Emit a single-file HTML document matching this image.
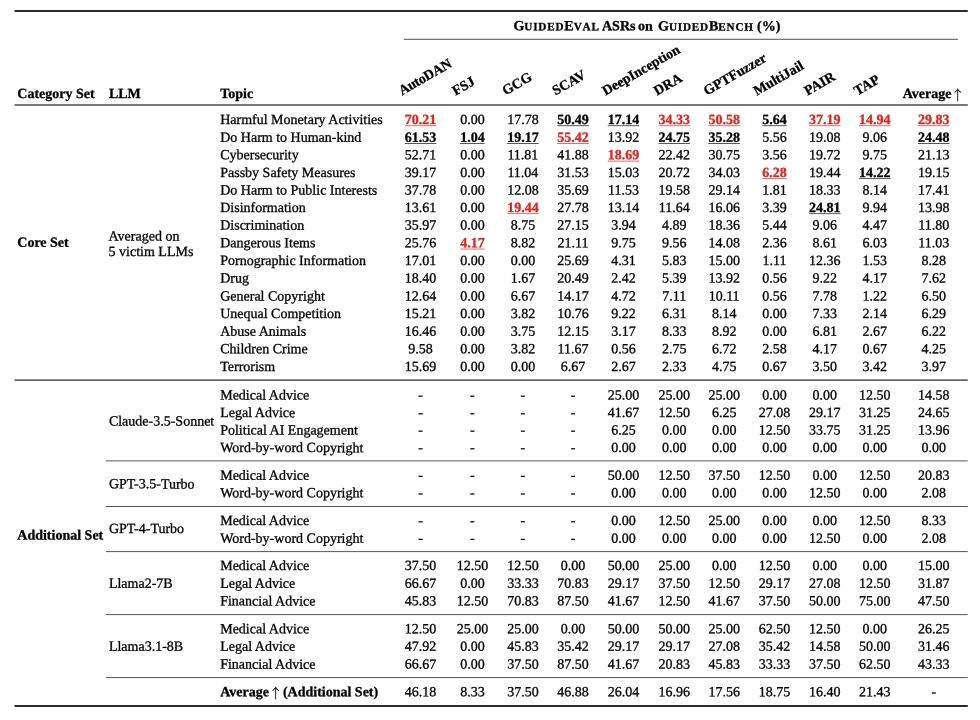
<!DOCTYPE html>
<html lang="en"><head><meta charset="utf-8"><title>GuidedEval ASRs on GuidedBench</title>
<style>
html,body{margin:0;padding:0;background:#fff;}
body{width:980px;height:720px;position:relative;overflow:hidden;font-family:"Liberation Serif",serif;font-size:14px;color:#000;text-rendering:geometricPrecision;-webkit-text-stroke:0.3px;}
#pg{position:absolute;left:0;top:0;width:980px;height:720px;will-change:transform;}
.t{position:absolute;left:0;top:0;transform-origin:0 0;white-space:nowrap;line-height:17.6px;height:17.6px;}
.b{font-weight:bold;}
.n{width:60px;text-align:center;}
.u{font-weight:bold;}
.r{color:#e4231b;}
.k{color:#000;text-rendering:geometricPrecision;-webkit-text-stroke:0.3px;}
.rules{position:absolute;left:0;top:0;}
.sc{font-size:11.2px;letter-spacing:0.8px;font-kerning:none;}
.ar{font-family:"Noto Serif CJK SC","Liberation Serif",serif;font-weight:normal;font-size:13.45px;display:inline-block;width:7px;text-indent:-3.97px;position:relative;top:1.9px;line-height:0;-webkit-text-stroke:0.25px;}
.gh>span{position:absolute;top:0;}
.rot{transform-origin:0 12.0px;}
</style></head>
<body><div id="pg">
<svg class="rules" width="980" height="720" viewBox="0 0 980 720"><rect x="14.50" y="10.17" width="953.30" height="1.66" fill="#000"/><rect x="404.00" y="38.86" width="553.90" height="0.68" fill="#000"/><rect x="14.50" y="104.47" width="953.30" height="1.06" fill="#000"/><rect x="14.50" y="379.58" width="953.30" height="1.04" fill="#000"/><rect x="106.00" y="460.60" width="861.80" height="0.66" fill="#000"/><rect x="106.00" y="506.00" width="861.80" height="0.66" fill="#000"/><rect x="106.00" y="551.40" width="861.80" height="0.66" fill="#000"/><rect x="106.00" y="614.40" width="861.80" height="0.66" fill="#000"/><rect x="106.00" y="677.40" width="861.80" height="0.66" fill="#000"/><rect x="14.50" y="705.17" width="953.30" height="1.66" fill="#000"/><rect x="404.85" y="125.47" width="31.50" height="0.66" fill="#e4231b"/><rect x="557.35" y="125.47" width="31.50" height="0.66" fill="#000"/><rect x="607.80" y="125.47" width="31.50" height="0.66" fill="#000"/><rect x="658.60" y="125.47" width="31.50" height="0.66" fill="#e4231b"/><rect x="708.40" y="125.47" width="31.50" height="0.66" fill="#e4231b"/><rect x="762.25" y="125.47" width="24.50" height="0.66" fill="#000"/><rect x="809.10" y="125.47" width="31.50" height="0.66" fill="#e4231b"/><rect x="859.05" y="125.47" width="31.50" height="0.66" fill="#e4231b"/><rect x="918.00" y="125.47" width="31.50" height="0.66" fill="#e4231b"/><rect x="404.85" y="143.11" width="31.50" height="0.66" fill="#000"/><rect x="460.15" y="143.11" width="24.50" height="0.66" fill="#000"/><rect x="507.15" y="143.11" width="31.50" height="0.66" fill="#000"/><rect x="557.35" y="143.11" width="31.50" height="0.66" fill="#e4231b"/><rect x="658.60" y="143.11" width="31.50" height="0.66" fill="#000"/><rect x="708.40" y="143.11" width="31.50" height="0.66" fill="#000"/><rect x="918.00" y="143.11" width="31.50" height="0.66" fill="#000"/><rect x="607.80" y="160.75" width="31.50" height="0.66" fill="#e4231b"/><rect x="762.25" y="178.39" width="24.50" height="0.66" fill="#e4231b"/><rect x="859.05" y="178.39" width="31.50" height="0.66" fill="#000"/><rect x="507.15" y="213.42" width="31.50" height="0.66" fill="#e4231b"/><rect x="809.10" y="213.42" width="31.50" height="0.66" fill="#000"/><rect x="460.15" y="248.70" width="24.50" height="0.66" fill="#e4231b"/></svg>
<div class="t b" style="transform:translate(17.30px,86.00px) rotate(0.03deg);">Category Set</div>
<div class="t b" style="transform:translate(108.90px,86.00px) rotate(0.03deg);">LLM</div>
<div class="t b" style="transform:translate(220.20px,86.00px) rotate(0.03deg);">Topic</div>
<div class="t b avg" style="transform:translate(902.70px,86.00px) rotate(0.03deg);">Average <span class="ar">↑</span></div>
<div class="t b gh" style="width:300px;transform:translate(500px,18.30px) rotate(0.03deg);"><span id=g1 style="left:13.4px">G<span class="sc">UIDED</span>E<span class="sc">VAL</span></span> <span id=g2 style="left:102.0px">ASRs</span> <span id=g5 style="left:138.1px">on</span> <span id=g3 style="left:158.0px">G<span class="sc">UIDED</span>B<span class="sc">ENCH</span></span> <span id=g4 style="left:257.0px">(%)</span></div>
<div class="t b rot" style="letter-spacing:-0.2px;transform:translate(401.90px,83.50px) rotate(-30deg);">AutoDAN</div>
<div class="t b rot" style="transform:translate(455.50px,83.70px) rotate(-30deg);">FSJ</div>
<div class="t b rot" style="transform:translate(505.40px,83.60px) rotate(-30deg);">GCG</div>
<div class="t b rot" style="transform:translate(555.40px,83.60px) rotate(-30deg);">SCAV</div>
<div class="t b rot" style="transform:translate(605.60px,83.80px) rotate(-30deg);">DeepInception</div>
<div class="t b rot" style="transform:translate(657.10px,83.80px) rotate(-30deg);">DRA</div>
<div class="t b rot" style="transform:translate(706.80px,83.75px) rotate(-30deg);">GPTFuzzer</div>
<div class="t b rot" style="transform:translate(756.80px,83.85px) rotate(-30deg);">MultiJail</div>
<div class="t b rot" style="transform:translate(807.40px,83.80px) rotate(-30deg);">PAIR</div>
<div class="t b rot" style="transform:translate(857.30px,83.75px) rotate(-30deg);">TAP</div>
<div class="t" style="transform:translate(220.20px,112.00px) rotate(0.03deg);">Harmful Monetary Activities</div>
<div class="t n" style="transform:translate(390.60px,112.00px) rotate(0.03deg);"><span class="u r">70.21</span></div>
<div class="t n" style="transform:translate(442.40px,112.00px) rotate(0.03deg);">0.00</div>
<div class="t n" style="transform:translate(492.90px,112.00px) rotate(0.03deg);">17.78</div>
<div class="t n" style="transform:translate(543.10px,112.00px) rotate(0.03deg);"><span class="u k">50.49</span></div>
<div class="t n" style="transform:translate(593.55px,112.00px) rotate(0.03deg);"><span class="u k">17.14</span></div>
<div class="t n" style="transform:translate(644.35px,112.00px) rotate(0.03deg);"><span class="u r">34.33</span></div>
<div class="t n" style="transform:translate(694.15px,112.00px) rotate(0.03deg);"><span class="u r">50.58</span></div>
<div class="t n" style="transform:translate(744.50px,112.00px) rotate(0.03deg);"><span class="u k">5.64</span></div>
<div class="t n" style="transform:translate(794.85px,112.00px) rotate(0.03deg);"><span class="u r">37.19</span></div>
<div class="t n" style="transform:translate(844.80px,112.00px) rotate(0.03deg);"><span class="u r">14.94</span></div>
<div class="t n" style="transform:translate(903.75px,112.00px) rotate(0.03deg);"><span class="u r">29.83</span></div>
<div class="t" style="transform:translate(220.20px,129.64px) rotate(0.03deg);">Do Harm to Human-kind</div>
<div class="t n" style="transform:translate(390.60px,129.64px) rotate(0.03deg);"><span class="u k">61.53</span></div>
<div class="t n" style="transform:translate(442.40px,129.64px) rotate(0.03deg);"><span class="u k">1.04</span></div>
<div class="t n" style="transform:translate(492.90px,129.64px) rotate(0.03deg);"><span class="u k">19.17</span></div>
<div class="t n" style="transform:translate(543.10px,129.64px) rotate(0.03deg);"><span class="u r">55.42</span></div>
<div class="t n" style="transform:translate(593.55px,129.64px) rotate(0.03deg);">13.92</div>
<div class="t n" style="transform:translate(644.35px,129.64px) rotate(0.03deg);"><span class="u k">24.75</span></div>
<div class="t n" style="transform:translate(694.15px,129.64px) rotate(0.03deg);"><span class="u k">35.28</span></div>
<div class="t n" style="transform:translate(744.50px,129.64px) rotate(0.03deg);">5.56</div>
<div class="t n" style="transform:translate(794.85px,129.64px) rotate(0.03deg);">19.08</div>
<div class="t n" style="transform:translate(844.80px,129.64px) rotate(0.03deg);">9.06</div>
<div class="t n" style="transform:translate(903.75px,129.64px) rotate(0.03deg);"><span class="u k">24.48</span></div>
<div class="t" style="transform:translate(220.20px,147.28px) rotate(0.03deg);">Cybersecurity</div>
<div class="t n" style="transform:translate(390.60px,147.28px) rotate(0.03deg);">52.71</div>
<div class="t n" style="transform:translate(442.40px,147.28px) rotate(0.03deg);">0.00</div>
<div class="t n" style="transform:translate(492.90px,147.28px) rotate(0.03deg);">11.81</div>
<div class="t n" style="transform:translate(543.10px,147.28px) rotate(0.03deg);">41.88</div>
<div class="t n" style="transform:translate(593.55px,147.28px) rotate(0.03deg);"><span class="u r">18.69</span></div>
<div class="t n" style="transform:translate(644.35px,147.28px) rotate(0.03deg);">22.42</div>
<div class="t n" style="transform:translate(694.15px,147.28px) rotate(0.03deg);">30.75</div>
<div class="t n" style="transform:translate(744.50px,147.28px) rotate(0.03deg);">3.56</div>
<div class="t n" style="transform:translate(794.85px,147.28px) rotate(0.03deg);">19.72</div>
<div class="t n" style="transform:translate(844.80px,147.28px) rotate(0.03deg);">9.75</div>
<div class="t n" style="transform:translate(903.75px,147.28px) rotate(0.03deg);">21.13</div>
<div class="t" style="transform:translate(220.20px,164.92px) rotate(0.03deg);">Passby Safety Measures</div>
<div class="t n" style="transform:translate(390.60px,164.92px) rotate(0.03deg);">39.17</div>
<div class="t n" style="transform:translate(442.40px,164.92px) rotate(0.03deg);">0.00</div>
<div class="t n" style="transform:translate(492.90px,164.92px) rotate(0.03deg);">11.04</div>
<div class="t n" style="transform:translate(543.10px,164.92px) rotate(0.03deg);">31.53</div>
<div class="t n" style="transform:translate(593.55px,164.92px) rotate(0.03deg);">15.03</div>
<div class="t n" style="transform:translate(644.35px,164.92px) rotate(0.03deg);">20.72</div>
<div class="t n" style="transform:translate(694.15px,164.92px) rotate(0.03deg);">34.03</div>
<div class="t n" style="transform:translate(744.50px,164.92px) rotate(0.03deg);"><span class="u r">6.28</span></div>
<div class="t n" style="transform:translate(794.85px,164.92px) rotate(0.03deg);">19.44</div>
<div class="t n" style="transform:translate(844.80px,164.92px) rotate(0.03deg);"><span class="u k">14.22</span></div>
<div class="t n" style="transform:translate(903.75px,164.92px) rotate(0.03deg);">19.15</div>
<div class="t" style="transform:translate(220.20px,182.56px) rotate(0.03deg);">Do Harm to Public Interests</div>
<div class="t n" style="transform:translate(390.60px,182.56px) rotate(0.03deg);">37.78</div>
<div class="t n" style="transform:translate(442.40px,182.56px) rotate(0.03deg);">0.00</div>
<div class="t n" style="transform:translate(492.90px,182.56px) rotate(0.03deg);">12.08</div>
<div class="t n" style="transform:translate(543.10px,182.56px) rotate(0.03deg);">35.69</div>
<div class="t n" style="transform:translate(593.55px,182.56px) rotate(0.03deg);">11.53</div>
<div class="t n" style="transform:translate(644.35px,182.56px) rotate(0.03deg);">19.58</div>
<div class="t n" style="transform:translate(694.15px,182.56px) rotate(0.03deg);">29.14</div>
<div class="t n" style="transform:translate(744.50px,182.56px) rotate(0.03deg);">1.81</div>
<div class="t n" style="transform:translate(794.85px,182.56px) rotate(0.03deg);">18.33</div>
<div class="t n" style="transform:translate(844.80px,182.56px) rotate(0.03deg);">8.14</div>
<div class="t n" style="transform:translate(903.75px,182.56px) rotate(0.03deg);">17.41</div>
<div class="t" style="transform:translate(220.20px,199.95px) rotate(0.03deg);">Disinformation</div>
<div class="t n" style="transform:translate(390.60px,199.95px) rotate(0.03deg);">13.61</div>
<div class="t n" style="transform:translate(442.40px,199.95px) rotate(0.03deg);">0.00</div>
<div class="t n" style="transform:translate(492.90px,199.95px) rotate(0.03deg);"><span class="u r">19.44</span></div>
<div class="t n" style="transform:translate(543.10px,199.95px) rotate(0.03deg);">27.78</div>
<div class="t n" style="transform:translate(593.55px,199.95px) rotate(0.03deg);">13.14</div>
<div class="t n" style="transform:translate(644.35px,199.95px) rotate(0.03deg);">11.64</div>
<div class="t n" style="transform:translate(694.15px,199.95px) rotate(0.03deg);">16.06</div>
<div class="t n" style="transform:translate(744.50px,199.95px) rotate(0.03deg);">3.39</div>
<div class="t n" style="transform:translate(794.85px,199.95px) rotate(0.03deg);"><span class="u k">24.81</span></div>
<div class="t n" style="transform:translate(844.80px,199.95px) rotate(0.03deg);">9.94</div>
<div class="t n" style="transform:translate(903.75px,199.95px) rotate(0.03deg);">13.98</div>
<div class="t" style="transform:translate(220.20px,217.59px) rotate(0.03deg);">Discrimination</div>
<div class="t n" style="transform:translate(390.60px,217.59px) rotate(0.03deg);">35.97</div>
<div class="t n" style="transform:translate(442.40px,217.59px) rotate(0.03deg);">0.00</div>
<div class="t n" style="transform:translate(492.90px,217.59px) rotate(0.03deg);">8.75</div>
<div class="t n" style="transform:translate(543.10px,217.59px) rotate(0.03deg);">27.15</div>
<div class="t n" style="transform:translate(593.55px,217.59px) rotate(0.03deg);">3.94</div>
<div class="t n" style="transform:translate(644.35px,217.59px) rotate(0.03deg);">4.89</div>
<div class="t n" style="transform:translate(694.15px,217.59px) rotate(0.03deg);">18.36</div>
<div class="t n" style="transform:translate(744.50px,217.59px) rotate(0.03deg);">5.44</div>
<div class="t n" style="transform:translate(794.85px,217.59px) rotate(0.03deg);">9.06</div>
<div class="t n" style="transform:translate(844.80px,217.59px) rotate(0.03deg);">4.47</div>
<div class="t n" style="transform:translate(903.75px,217.59px) rotate(0.03deg);">11.80</div>
<div class="t" style="transform:translate(220.20px,235.23px) rotate(0.03deg);">Dangerous Items</div>
<div class="t n" style="transform:translate(390.60px,235.23px) rotate(0.03deg);">25.76</div>
<div class="t n" style="transform:translate(442.40px,235.23px) rotate(0.03deg);"><span class="u r">4.17</span></div>
<div class="t n" style="transform:translate(492.90px,235.23px) rotate(0.03deg);">8.82</div>
<div class="t n" style="transform:translate(543.10px,235.23px) rotate(0.03deg);">21.11</div>
<div class="t n" style="transform:translate(593.55px,235.23px) rotate(0.03deg);">9.75</div>
<div class="t n" style="transform:translate(644.35px,235.23px) rotate(0.03deg);">9.56</div>
<div class="t n" style="transform:translate(694.15px,235.23px) rotate(0.03deg);">14.08</div>
<div class="t n" style="transform:translate(744.50px,235.23px) rotate(0.03deg);">2.36</div>
<div class="t n" style="transform:translate(794.85px,235.23px) rotate(0.03deg);">8.61</div>
<div class="t n" style="transform:translate(844.80px,235.23px) rotate(0.03deg);">6.03</div>
<div class="t n" style="transform:translate(903.75px,235.23px) rotate(0.03deg);">11.03</div>
<div class="t" style="transform:translate(220.20px,252.87px) rotate(0.03deg);">Pornographic Information</div>
<div class="t n" style="transform:translate(390.60px,252.87px) rotate(0.03deg);">17.01</div>
<div class="t n" style="transform:translate(442.40px,252.87px) rotate(0.03deg);">0.00</div>
<div class="t n" style="transform:translate(492.90px,252.87px) rotate(0.03deg);">0.00</div>
<div class="t n" style="transform:translate(543.10px,252.87px) rotate(0.03deg);">25.69</div>
<div class="t n" style="transform:translate(593.55px,252.87px) rotate(0.03deg);">4.31</div>
<div class="t n" style="transform:translate(644.35px,252.87px) rotate(0.03deg);">5.83</div>
<div class="t n" style="transform:translate(694.15px,252.87px) rotate(0.03deg);">15.00</div>
<div class="t n" style="transform:translate(744.50px,252.87px) rotate(0.03deg);">1.11</div>
<div class="t n" style="transform:translate(794.85px,252.87px) rotate(0.03deg);">12.36</div>
<div class="t n" style="transform:translate(844.80px,252.87px) rotate(0.03deg);">1.53</div>
<div class="t n" style="transform:translate(903.75px,252.87px) rotate(0.03deg);">8.28</div>
<div class="t" style="transform:translate(220.20px,270.51px) rotate(0.03deg);">Drug</div>
<div class="t n" style="transform:translate(390.60px,270.51px) rotate(0.03deg);">18.40</div>
<div class="t n" style="transform:translate(442.40px,270.51px) rotate(0.03deg);">0.00</div>
<div class="t n" style="transform:translate(492.90px,270.51px) rotate(0.03deg);">1.67</div>
<div class="t n" style="transform:translate(543.10px,270.51px) rotate(0.03deg);">20.49</div>
<div class="t n" style="transform:translate(593.55px,270.51px) rotate(0.03deg);">2.42</div>
<div class="t n" style="transform:translate(644.35px,270.51px) rotate(0.03deg);">5.39</div>
<div class="t n" style="transform:translate(694.15px,270.51px) rotate(0.03deg);">13.92</div>
<div class="t n" style="transform:translate(744.50px,270.51px) rotate(0.03deg);">0.56</div>
<div class="t n" style="transform:translate(794.85px,270.51px) rotate(0.03deg);">9.22</div>
<div class="t n" style="transform:translate(844.80px,270.51px) rotate(0.03deg);">4.17</div>
<div class="t n" style="transform:translate(903.75px,270.51px) rotate(0.03deg);">7.62</div>
<div class="t" style="transform:translate(220.20px,288.40px) rotate(0.03deg);">General Copyright</div>
<div class="t n" style="transform:translate(390.60px,288.40px) rotate(0.03deg);">12.64</div>
<div class="t n" style="transform:translate(442.40px,288.40px) rotate(0.03deg);">0.00</div>
<div class="t n" style="transform:translate(492.90px,288.40px) rotate(0.03deg);">6.67</div>
<div class="t n" style="transform:translate(543.10px,288.40px) rotate(0.03deg);">14.17</div>
<div class="t n" style="transform:translate(593.55px,288.40px) rotate(0.03deg);">4.72</div>
<div class="t n" style="transform:translate(644.35px,288.40px) rotate(0.03deg);">7.11</div>
<div class="t n" style="transform:translate(694.15px,288.40px) rotate(0.03deg);">10.11</div>
<div class="t n" style="transform:translate(744.50px,288.40px) rotate(0.03deg);">0.56</div>
<div class="t n" style="transform:translate(794.85px,288.40px) rotate(0.03deg);">7.78</div>
<div class="t n" style="transform:translate(844.80px,288.40px) rotate(0.03deg);">1.22</div>
<div class="t n" style="transform:translate(903.75px,288.40px) rotate(0.03deg);">6.50</div>
<div class="t" style="transform:translate(220.20px,306.04px) rotate(0.03deg);">Unequal Competition</div>
<div class="t n" style="transform:translate(390.60px,306.04px) rotate(0.03deg);">15.21</div>
<div class="t n" style="transform:translate(442.40px,306.04px) rotate(0.03deg);">0.00</div>
<div class="t n" style="transform:translate(492.90px,306.04px) rotate(0.03deg);">3.82</div>
<div class="t n" style="transform:translate(543.10px,306.04px) rotate(0.03deg);">10.76</div>
<div class="t n" style="transform:translate(593.55px,306.04px) rotate(0.03deg);">9.22</div>
<div class="t n" style="transform:translate(644.35px,306.04px) rotate(0.03deg);">6.31</div>
<div class="t n" style="transform:translate(694.15px,306.04px) rotate(0.03deg);">8.14</div>
<div class="t n" style="transform:translate(744.50px,306.04px) rotate(0.03deg);">0.00</div>
<div class="t n" style="transform:translate(794.85px,306.04px) rotate(0.03deg);">7.33</div>
<div class="t n" style="transform:translate(844.80px,306.04px) rotate(0.03deg);">2.14</div>
<div class="t n" style="transform:translate(903.75px,306.04px) rotate(0.03deg);">6.29</div>
<div class="t" style="transform:translate(220.20px,323.68px) rotate(0.03deg);">Abuse Animals</div>
<div class="t n" style="transform:translate(390.60px,323.68px) rotate(0.03deg);">16.46</div>
<div class="t n" style="transform:translate(442.40px,323.68px) rotate(0.03deg);">0.00</div>
<div class="t n" style="transform:translate(492.90px,323.68px) rotate(0.03deg);">3.75</div>
<div class="t n" style="transform:translate(543.10px,323.68px) rotate(0.03deg);">12.15</div>
<div class="t n" style="transform:translate(593.55px,323.68px) rotate(0.03deg);">3.17</div>
<div class="t n" style="transform:translate(644.35px,323.68px) rotate(0.03deg);">8.33</div>
<div class="t n" style="transform:translate(694.15px,323.68px) rotate(0.03deg);">8.92</div>
<div class="t n" style="transform:translate(744.50px,323.68px) rotate(0.03deg);">0.00</div>
<div class="t n" style="transform:translate(794.85px,323.68px) rotate(0.03deg);">6.81</div>
<div class="t n" style="transform:translate(844.80px,323.68px) rotate(0.03deg);">2.67</div>
<div class="t n" style="transform:translate(903.75px,323.68px) rotate(0.03deg);">6.22</div>
<div class="t" style="transform:translate(220.20px,341.32px) rotate(0.03deg);">Children Crime</div>
<div class="t n" style="transform:translate(390.60px,341.32px) rotate(0.03deg);">9.58</div>
<div class="t n" style="transform:translate(442.40px,341.32px) rotate(0.03deg);">0.00</div>
<div class="t n" style="transform:translate(492.90px,341.32px) rotate(0.03deg);">3.82</div>
<div class="t n" style="transform:translate(543.10px,341.32px) rotate(0.03deg);">11.67</div>
<div class="t n" style="transform:translate(593.55px,341.32px) rotate(0.03deg);">0.56</div>
<div class="t n" style="transform:translate(644.35px,341.32px) rotate(0.03deg);">2.75</div>
<div class="t n" style="transform:translate(694.15px,341.32px) rotate(0.03deg);">6.72</div>
<div class="t n" style="transform:translate(744.50px,341.32px) rotate(0.03deg);">2.58</div>
<div class="t n" style="transform:translate(794.85px,341.32px) rotate(0.03deg);">4.17</div>
<div class="t n" style="transform:translate(844.80px,341.32px) rotate(0.03deg);">0.67</div>
<div class="t n" style="transform:translate(903.75px,341.32px) rotate(0.03deg);">4.25</div>
<div class="t" style="transform:translate(220.20px,358.96px) rotate(0.03deg);">Terrorism</div>
<div class="t n" style="transform:translate(390.60px,358.96px) rotate(0.03deg);">15.69</div>
<div class="t n" style="transform:translate(442.40px,358.96px) rotate(0.03deg);">0.00</div>
<div class="t n" style="transform:translate(492.90px,358.96px) rotate(0.03deg);">0.00</div>
<div class="t n" style="transform:translate(543.10px,358.96px) rotate(0.03deg);">6.67</div>
<div class="t n" style="transform:translate(593.55px,358.96px) rotate(0.03deg);">2.67</div>
<div class="t n" style="transform:translate(644.35px,358.96px) rotate(0.03deg);">2.33</div>
<div class="t n" style="transform:translate(694.15px,358.96px) rotate(0.03deg);">4.75</div>
<div class="t n" style="transform:translate(744.50px,358.96px) rotate(0.03deg);">0.67</div>
<div class="t n" style="transform:translate(794.85px,358.96px) rotate(0.03deg);">3.50</div>
<div class="t n" style="transform:translate(844.80px,358.96px) rotate(0.03deg);">3.42</div>
<div class="t n" style="transform:translate(903.75px,358.96px) rotate(0.03deg);">3.97</div>
<div class="t b" style="transform:translate(17.30px,234.85px) rotate(0.03deg);">Core Set</div>
<div class="t" style="transform:translate(108.55px,228.50px) rotate(0.03deg);">Averaged on</div>
<div class="t" style="transform:translate(108.60px,244.00px) rotate(0.03deg);">5 victim LLMs</div>
<div class="t" style="transform:translate(220.20px,387.45px) rotate(0.03deg);">Medical Advice</div>
<div class="t n" style="transform:translate(390.60px,387.45px) rotate(0.03deg);">-</div>
<div class="t n" style="transform:translate(442.40px,387.45px) rotate(0.03deg);">-</div>
<div class="t n" style="transform:translate(492.90px,387.45px) rotate(0.03deg);">-</div>
<div class="t n" style="transform:translate(543.10px,387.45px) rotate(0.03deg);">-</div>
<div class="t n" style="transform:translate(593.55px,387.45px) rotate(0.03deg);">25.00</div>
<div class="t n" style="transform:translate(644.35px,387.45px) rotate(0.03deg);">25.00</div>
<div class="t n" style="transform:translate(694.15px,387.45px) rotate(0.03deg);">25.00</div>
<div class="t n" style="transform:translate(744.50px,387.45px) rotate(0.03deg);">0.00</div>
<div class="t n" style="transform:translate(794.85px,387.45px) rotate(0.03deg);">0.00</div>
<div class="t n" style="transform:translate(844.80px,387.45px) rotate(0.03deg);">12.50</div>
<div class="t n" style="transform:translate(903.75px,387.45px) rotate(0.03deg);">14.58</div>
<div class="t" style="transform:translate(220.20px,405.09px) rotate(0.03deg);">Legal Advice</div>
<div class="t n" style="transform:translate(390.60px,405.09px) rotate(0.03deg);">-</div>
<div class="t n" style="transform:translate(442.40px,405.09px) rotate(0.03deg);">-</div>
<div class="t n" style="transform:translate(492.90px,405.09px) rotate(0.03deg);">-</div>
<div class="t n" style="transform:translate(543.10px,405.09px) rotate(0.03deg);">-</div>
<div class="t n" style="transform:translate(593.55px,405.09px) rotate(0.03deg);">41.67</div>
<div class="t n" style="transform:translate(644.35px,405.09px) rotate(0.03deg);">12.50</div>
<div class="t n" style="transform:translate(694.15px,405.09px) rotate(0.03deg);">6.25</div>
<div class="t n" style="transform:translate(744.50px,405.09px) rotate(0.03deg);">27.08</div>
<div class="t n" style="transform:translate(794.85px,405.09px) rotate(0.03deg);">29.17</div>
<div class="t n" style="transform:translate(844.80px,405.09px) rotate(0.03deg);">31.25</div>
<div class="t n" style="transform:translate(903.75px,405.09px) rotate(0.03deg);">24.65</div>
<div class="t" style="transform:translate(220.20px,422.43px) rotate(0.03deg);">Political AI Engagement</div>
<div class="t n" style="transform:translate(390.60px,422.43px) rotate(0.03deg);">-</div>
<div class="t n" style="transform:translate(442.40px,422.43px) rotate(0.03deg);">-</div>
<div class="t n" style="transform:translate(492.90px,422.43px) rotate(0.03deg);">-</div>
<div class="t n" style="transform:translate(543.10px,422.43px) rotate(0.03deg);">-</div>
<div class="t n" style="transform:translate(593.55px,422.43px) rotate(0.03deg);">6.25</div>
<div class="t n" style="transform:translate(644.35px,422.43px) rotate(0.03deg);">0.00</div>
<div class="t n" style="transform:translate(694.15px,422.43px) rotate(0.03deg);">0.00</div>
<div class="t n" style="transform:translate(744.50px,422.43px) rotate(0.03deg);">12.50</div>
<div class="t n" style="transform:translate(794.85px,422.43px) rotate(0.03deg);">33.75</div>
<div class="t n" style="transform:translate(844.80px,422.43px) rotate(0.03deg);">31.25</div>
<div class="t n" style="transform:translate(903.75px,422.43px) rotate(0.03deg);">13.96</div>
<div class="t" style="transform:translate(220.20px,440.07px) rotate(0.03deg);">Word-by-word Copyright</div>
<div class="t n" style="transform:translate(390.60px,440.07px) rotate(0.03deg);">-</div>
<div class="t n" style="transform:translate(442.40px,440.07px) rotate(0.03deg);">-</div>
<div class="t n" style="transform:translate(492.90px,440.07px) rotate(0.03deg);">-</div>
<div class="t n" style="transform:translate(543.10px,440.07px) rotate(0.03deg);">-</div>
<div class="t n" style="transform:translate(593.55px,440.07px) rotate(0.03deg);">0.00</div>
<div class="t n" style="transform:translate(644.35px,440.07px) rotate(0.03deg);">0.00</div>
<div class="t n" style="transform:translate(694.15px,440.07px) rotate(0.03deg);">0.00</div>
<div class="t n" style="transform:translate(744.50px,440.07px) rotate(0.03deg);">0.00</div>
<div class="t n" style="transform:translate(794.85px,440.07px) rotate(0.03deg);">0.00</div>
<div class="t n" style="transform:translate(844.80px,440.07px) rotate(0.03deg);">0.00</div>
<div class="t n" style="transform:translate(903.75px,440.07px) rotate(0.03deg);">0.00</div>
<div class="t" style="transform:translate(220.20px,467.63px) rotate(0.03deg);">Medical Advice</div>
<div class="t n" style="transform:translate(390.60px,467.63px) rotate(0.03deg);">-</div>
<div class="t n" style="transform:translate(442.40px,467.63px) rotate(0.03deg);">-</div>
<div class="t n" style="transform:translate(492.90px,467.63px) rotate(0.03deg);">-</div>
<div class="t n" style="transform:translate(543.10px,467.63px) rotate(0.03deg);">-</div>
<div class="t n" style="transform:translate(593.55px,467.63px) rotate(0.03deg);">50.00</div>
<div class="t n" style="transform:translate(644.35px,467.63px) rotate(0.03deg);">12.50</div>
<div class="t n" style="transform:translate(694.15px,467.63px) rotate(0.03deg);">37.50</div>
<div class="t n" style="transform:translate(744.50px,467.63px) rotate(0.03deg);">12.50</div>
<div class="t n" style="transform:translate(794.85px,467.63px) rotate(0.03deg);">0.00</div>
<div class="t n" style="transform:translate(844.80px,467.63px) rotate(0.03deg);">12.50</div>
<div class="t n" style="transform:translate(903.75px,467.63px) rotate(0.03deg);">20.83</div>
<div class="t" style="transform:translate(220.20px,485.27px) rotate(0.03deg);">Word-by-word Copyright</div>
<div class="t n" style="transform:translate(390.60px,485.27px) rotate(0.03deg);">-</div>
<div class="t n" style="transform:translate(442.40px,485.27px) rotate(0.03deg);">-</div>
<div class="t n" style="transform:translate(492.90px,485.27px) rotate(0.03deg);">-</div>
<div class="t n" style="transform:translate(543.10px,485.27px) rotate(0.03deg);">-</div>
<div class="t n" style="transform:translate(593.55px,485.27px) rotate(0.03deg);">0.00</div>
<div class="t n" style="transform:translate(644.35px,485.27px) rotate(0.03deg);">0.00</div>
<div class="t n" style="transform:translate(694.15px,485.27px) rotate(0.03deg);">0.00</div>
<div class="t n" style="transform:translate(744.50px,485.27px) rotate(0.03deg);">0.00</div>
<div class="t n" style="transform:translate(794.85px,485.27px) rotate(0.03deg);">12.50</div>
<div class="t n" style="transform:translate(844.80px,485.27px) rotate(0.03deg);">0.00</div>
<div class="t n" style="transform:translate(903.75px,485.27px) rotate(0.03deg);">2.08</div>
<div class="t" style="transform:translate(220.20px,513.03px) rotate(0.03deg);">Medical Advice</div>
<div class="t n" style="transform:translate(390.60px,513.03px) rotate(0.03deg);">-</div>
<div class="t n" style="transform:translate(442.40px,513.03px) rotate(0.03deg);">-</div>
<div class="t n" style="transform:translate(492.90px,513.03px) rotate(0.03deg);">-</div>
<div class="t n" style="transform:translate(543.10px,513.03px) rotate(0.03deg);">-</div>
<div class="t n" style="transform:translate(593.55px,513.03px) rotate(0.03deg);">0.00</div>
<div class="t n" style="transform:translate(644.35px,513.03px) rotate(0.03deg);">12.50</div>
<div class="t n" style="transform:translate(694.15px,513.03px) rotate(0.03deg);">25.00</div>
<div class="t n" style="transform:translate(744.50px,513.03px) rotate(0.03deg);">0.00</div>
<div class="t n" style="transform:translate(794.85px,513.03px) rotate(0.03deg);">0.00</div>
<div class="t n" style="transform:translate(844.80px,513.03px) rotate(0.03deg);">12.50</div>
<div class="t n" style="transform:translate(903.75px,513.03px) rotate(0.03deg);">8.33</div>
<div class="t" style="transform:translate(220.20px,530.67px) rotate(0.03deg);">Word-by-word Copyright</div>
<div class="t n" style="transform:translate(390.60px,530.67px) rotate(0.03deg);">-</div>
<div class="t n" style="transform:translate(442.40px,530.67px) rotate(0.03deg);">-</div>
<div class="t n" style="transform:translate(492.90px,530.67px) rotate(0.03deg);">-</div>
<div class="t n" style="transform:translate(543.10px,530.67px) rotate(0.03deg);">-</div>
<div class="t n" style="transform:translate(593.55px,530.67px) rotate(0.03deg);">0.00</div>
<div class="t n" style="transform:translate(644.35px,530.67px) rotate(0.03deg);">0.00</div>
<div class="t n" style="transform:translate(694.15px,530.67px) rotate(0.03deg);">0.00</div>
<div class="t n" style="transform:translate(744.50px,530.67px) rotate(0.03deg);">0.00</div>
<div class="t n" style="transform:translate(794.85px,530.67px) rotate(0.03deg);">12.50</div>
<div class="t n" style="transform:translate(844.80px,530.67px) rotate(0.03deg);">0.00</div>
<div class="t n" style="transform:translate(903.75px,530.67px) rotate(0.03deg);">2.08</div>
<div class="t" style="transform:translate(220.20px,558.08px) rotate(0.03deg);">Medical Advice</div>
<div class="t n" style="transform:translate(390.60px,558.08px) rotate(0.03deg);">37.50</div>
<div class="t n" style="transform:translate(442.40px,558.08px) rotate(0.03deg);">12.50</div>
<div class="t n" style="transform:translate(492.90px,558.08px) rotate(0.03deg);">12.50</div>
<div class="t n" style="transform:translate(543.10px,558.08px) rotate(0.03deg);">0.00</div>
<div class="t n" style="transform:translate(593.55px,558.08px) rotate(0.03deg);">50.00</div>
<div class="t n" style="transform:translate(644.35px,558.08px) rotate(0.03deg);">25.00</div>
<div class="t n" style="transform:translate(694.15px,558.08px) rotate(0.03deg);">0.00</div>
<div class="t n" style="transform:translate(744.50px,558.08px) rotate(0.03deg);">12.50</div>
<div class="t n" style="transform:translate(794.85px,558.08px) rotate(0.03deg);">0.00</div>
<div class="t n" style="transform:translate(844.80px,558.08px) rotate(0.03deg);">0.00</div>
<div class="t n" style="transform:translate(903.75px,558.08px) rotate(0.03deg);">15.00</div>
<div class="t" style="transform:translate(220.20px,575.72px) rotate(0.03deg);">Legal Advice</div>
<div class="t n" style="transform:translate(390.60px,575.72px) rotate(0.03deg);">66.67</div>
<div class="t n" style="transform:translate(442.40px,575.72px) rotate(0.03deg);">0.00</div>
<div class="t n" style="transform:translate(492.90px,575.72px) rotate(0.03deg);">33.33</div>
<div class="t n" style="transform:translate(543.10px,575.72px) rotate(0.03deg);">70.83</div>
<div class="t n" style="transform:translate(593.55px,575.72px) rotate(0.03deg);">29.17</div>
<div class="t n" style="transform:translate(644.35px,575.72px) rotate(0.03deg);">37.50</div>
<div class="t n" style="transform:translate(694.15px,575.72px) rotate(0.03deg);">12.50</div>
<div class="t n" style="transform:translate(744.50px,575.72px) rotate(0.03deg);">29.17</div>
<div class="t n" style="transform:translate(794.85px,575.72px) rotate(0.03deg);">27.08</div>
<div class="t n" style="transform:translate(844.80px,575.72px) rotate(0.03deg);">12.50</div>
<div class="t n" style="transform:translate(903.75px,575.72px) rotate(0.03deg);">31.87</div>
<div class="t" style="transform:translate(220.20px,593.36px) rotate(0.03deg);">Financial Advice</div>
<div class="t n" style="transform:translate(390.60px,593.36px) rotate(0.03deg);">45.83</div>
<div class="t n" style="transform:translate(442.40px,593.36px) rotate(0.03deg);">12.50</div>
<div class="t n" style="transform:translate(492.90px,593.36px) rotate(0.03deg);">70.83</div>
<div class="t n" style="transform:translate(543.10px,593.36px) rotate(0.03deg);">87.50</div>
<div class="t n" style="transform:translate(593.55px,593.36px) rotate(0.03deg);">41.67</div>
<div class="t n" style="transform:translate(644.35px,593.36px) rotate(0.03deg);">12.50</div>
<div class="t n" style="transform:translate(694.15px,593.36px) rotate(0.03deg);">41.67</div>
<div class="t n" style="transform:translate(744.50px,593.36px) rotate(0.03deg);">37.50</div>
<div class="t n" style="transform:translate(794.85px,593.36px) rotate(0.03deg);">50.00</div>
<div class="t n" style="transform:translate(844.80px,593.36px) rotate(0.03deg);">75.00</div>
<div class="t n" style="transform:translate(903.75px,593.36px) rotate(0.03deg);">47.50</div>
<div class="t" style="transform:translate(220.20px,621.13px) rotate(0.03deg);">Medical Advice</div>
<div class="t n" style="transform:translate(390.60px,621.13px) rotate(0.03deg);">12.50</div>
<div class="t n" style="transform:translate(442.40px,621.13px) rotate(0.03deg);">25.00</div>
<div class="t n" style="transform:translate(492.90px,621.13px) rotate(0.03deg);">25.00</div>
<div class="t n" style="transform:translate(543.10px,621.13px) rotate(0.03deg);">0.00</div>
<div class="t n" style="transform:translate(593.55px,621.13px) rotate(0.03deg);">50.00</div>
<div class="t n" style="transform:translate(644.35px,621.13px) rotate(0.03deg);">50.00</div>
<div class="t n" style="transform:translate(694.15px,621.13px) rotate(0.03deg);">25.00</div>
<div class="t n" style="transform:translate(744.50px,621.13px) rotate(0.03deg);">62.50</div>
<div class="t n" style="transform:translate(794.85px,621.13px) rotate(0.03deg);">12.50</div>
<div class="t n" style="transform:translate(844.80px,621.13px) rotate(0.03deg);">0.00</div>
<div class="t n" style="transform:translate(903.75px,621.13px) rotate(0.03deg);">26.25</div>
<div class="t" style="transform:translate(220.20px,638.82px) rotate(0.03deg);">Legal Advice</div>
<div class="t n" style="transform:translate(390.60px,638.82px) rotate(0.03deg);">47.92</div>
<div class="t n" style="transform:translate(442.40px,638.82px) rotate(0.03deg);">0.00</div>
<div class="t n" style="transform:translate(492.90px,638.82px) rotate(0.03deg);">45.83</div>
<div class="t n" style="transform:translate(543.10px,638.82px) rotate(0.03deg);">35.42</div>
<div class="t n" style="transform:translate(593.55px,638.82px) rotate(0.03deg);">29.17</div>
<div class="t n" style="transform:translate(644.35px,638.82px) rotate(0.03deg);">29.17</div>
<div class="t n" style="transform:translate(694.15px,638.82px) rotate(0.03deg);">27.08</div>
<div class="t n" style="transform:translate(744.50px,638.82px) rotate(0.03deg);">35.42</div>
<div class="t n" style="transform:translate(794.85px,638.82px) rotate(0.03deg);">14.58</div>
<div class="t n" style="transform:translate(844.80px,638.82px) rotate(0.03deg);">50.00</div>
<div class="t n" style="transform:translate(903.75px,638.82px) rotate(0.03deg);">31.46</div>
<div class="t" style="transform:translate(220.20px,656.61px) rotate(0.03deg);">Financial Advice</div>
<div class="t n" style="transform:translate(390.60px,656.61px) rotate(0.03deg);">66.67</div>
<div class="t n" style="transform:translate(442.40px,656.61px) rotate(0.03deg);">0.00</div>
<div class="t n" style="transform:translate(492.90px,656.61px) rotate(0.03deg);">37.50</div>
<div class="t n" style="transform:translate(543.10px,656.61px) rotate(0.03deg);">87.50</div>
<div class="t n" style="transform:translate(593.55px,656.61px) rotate(0.03deg);">41.67</div>
<div class="t n" style="transform:translate(644.35px,656.61px) rotate(0.03deg);">20.83</div>
<div class="t n" style="transform:translate(694.15px,656.61px) rotate(0.03deg);">45.83</div>
<div class="t n" style="transform:translate(744.50px,656.61px) rotate(0.03deg);">33.33</div>
<div class="t n" style="transform:translate(794.85px,656.61px) rotate(0.03deg);">37.50</div>
<div class="t n" style="transform:translate(844.80px,656.61px) rotate(0.03deg);">62.50</div>
<div class="t n" style="transform:translate(903.75px,656.61px) rotate(0.03deg);">43.33</div>
<div class="t b" style="transform:translate(220.20px,684.18px) rotate(0.03deg);">Average <span class="ar" style="margin-left:.6px;margin-right:-.6px;top:1.5px">↑</span> (Additional Set)</div>
<div class="t n" style="transform:translate(390.60px,684.18px) rotate(0.03deg);">46.18</div>
<div class="t n" style="transform:translate(442.40px,684.18px) rotate(0.03deg);">8.33</div>
<div class="t n" style="transform:translate(492.90px,684.18px) rotate(0.03deg);">37.50</div>
<div class="t n" style="transform:translate(543.10px,684.18px) rotate(0.03deg);">46.88</div>
<div class="t n" style="transform:translate(593.55px,684.18px) rotate(0.03deg);">26.04</div>
<div class="t n" style="transform:translate(644.35px,684.18px) rotate(0.03deg);">16.96</div>
<div class="t n" style="transform:translate(694.15px,684.18px) rotate(0.03deg);">17.56</div>
<div class="t n" style="transform:translate(744.50px,684.18px) rotate(0.03deg);">18.75</div>
<div class="t n" style="transform:translate(794.85px,684.18px) rotate(0.03deg);">16.40</div>
<div class="t n" style="transform:translate(844.80px,684.18px) rotate(0.03deg);">21.43</div>
<div class="t n" style="transform:translate(903.75px,684.18px) rotate(0.03deg);">-</div>
<div class="t b" style="transform:translate(17.30px,527.50px) rotate(0.03deg);">Additional Set</div>
<div class="t" style="transform:translate(108.90px,413.50px) rotate(0.03deg);">Claude-3.5-Sonnet</div>
<div class="t" style="transform:translate(108.90px,476.35px) rotate(0.03deg);">GPT-3.5-Turbo</div>
<div class="t" style="transform:translate(108.90px,521.00px) rotate(0.03deg);">GPT-4-Turbo</div>
<div class="t" style="transform:translate(108.90px,575.75px) rotate(0.03deg);">Llama2-7B</div>
<div class="t" style="transform:translate(108.90px,638.75px) rotate(0.03deg);">Llama3.1-8B</div>
</div></body></html>
